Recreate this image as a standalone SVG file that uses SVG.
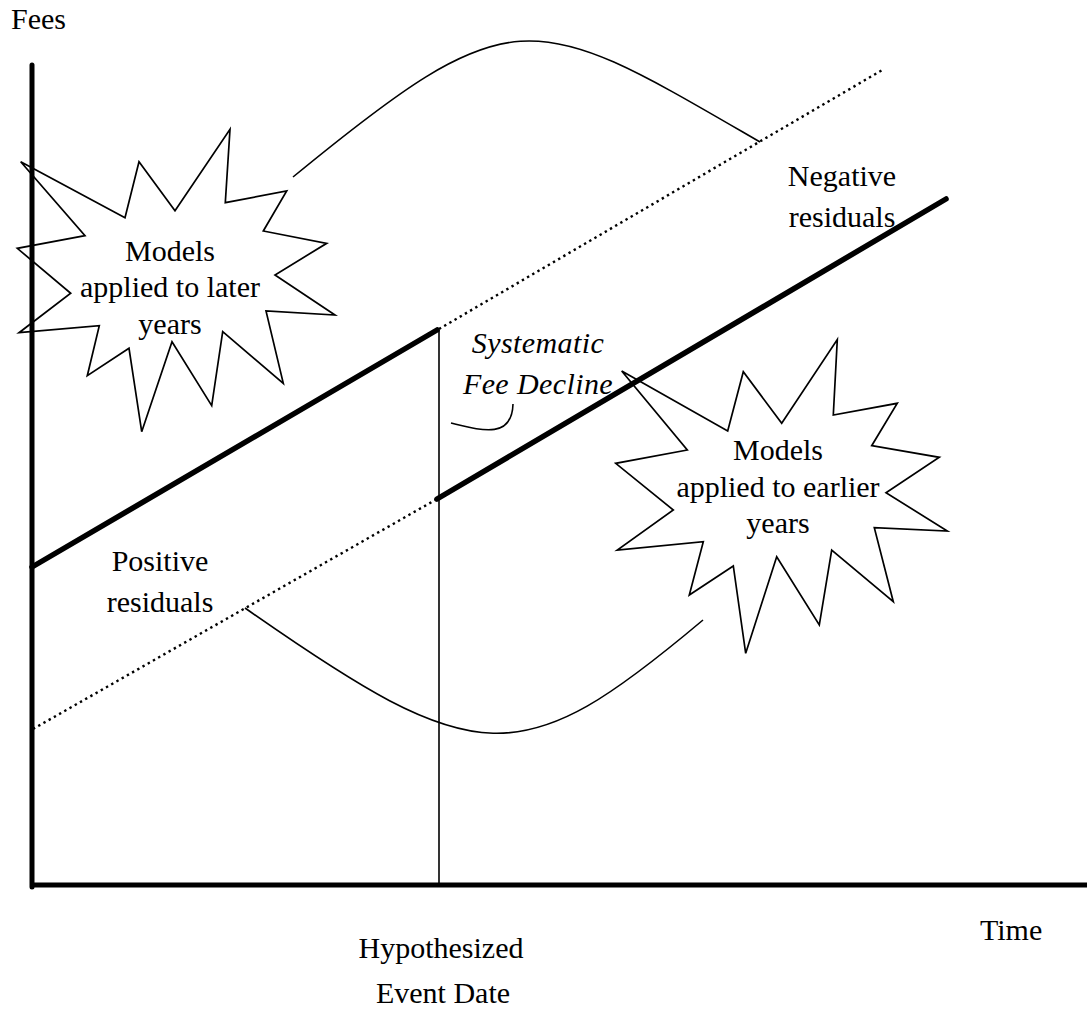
<svg xmlns="http://www.w3.org/2000/svg" width="1088" height="1010" viewBox="0 0 1088 1010">
<style>
text{font-family:"Liberation Serif","Times New Roman",serif;font-size:30px;fill:#000}
.it{font-style:italic;letter-spacing:0.4px}
.thick{stroke:#000;stroke-width:5.5;stroke-linecap:round;fill:none}
.axis{stroke:#000;stroke-width:5;fill:none}
.dot{stroke:#000;stroke-width:2.4;stroke-dasharray:2.4 3.6;fill:none}
.thin{stroke:#000;stroke-width:1.6;fill:none}
.star{stroke:#000;stroke-width:1.7;fill:none;stroke-linejoin:miter}
</style>
<rect width="1088" height="1010" fill="#fff"/>
<g id="axes">
<line class="axis" x1="32" y1="65" x2="32" y2="887" stroke-linecap="round"/>
<line class="axis" x1="30" y1="885" x2="1087" y2="885"/>
<line class="thin" x1="439" y1="330" x2="439" y2="885"/>
</g>
<g id="trend-lines">
<line class="thick" x1="32" y1="567" x2="437" y2="330"/>
<line class="dot" x1="439" y1="329" x2="884" y2="69"/>
<line class="dot" x1="33" y1="729" x2="437" y2="499"/>
<line class="thick" x1="437" y1="499" x2="946" y2="199"/>
</g>
<g id="star-later">
<polygon class="star" points="20.7,161.7 125,217.7 139,161.7 175,210.7 230,129.3 225.3,202.7 286.7,191 263.3,231 326.7,243.3 275,275 335,315 266,311 283.3,383.3 222.7,331.7 211.7,405.7 172,341.7 141.7,431.7 129,348.3 87.3,375.7 99.3,325.7 19,332.7 70.7,293.3 17.3,248.3 85,235.7"/>
<text x="170" y="260.5" text-anchor="middle">Models</text>
<text x="170" y="297" text-anchor="middle">applied to later</text>
<text x="170" y="334" text-anchor="middle">years</text>
</g>
<g id="star-earlier">
<polygon class="star" points="621.7,371 727.7,431 743.3,371.7 781.7,423.3 837.3,339.5 833.3,415 897.3,403.3 871.7,445.7 939.3,457.3 886,492.7 947.3,531 874.3,527.7 893.3,601.7 831.7,550 819.3,625 776.7,556.7 745.7,653.3 733.3,566 689.3,595 703.3,541.7 617.3,550 673.3,510 615.7,463.3 687.3,450"/>
<text x="778" y="460" text-anchor="middle">Models</text>
<text x="778" y="497" text-anchor="middle">applied to earlier</text>
<text x="778" y="533" text-anchor="middle">years</text>
</g>
<g id="connectors">
<path class="thin" d="M293,177 C517,-7 532,10 760,142"/>
<path class="thin" d="M245,608 C479,772 520,774 703,620"/>
<path class="thin" d="M451,423 C480,430 512,440 513,404"/>
</g>
<g id="label-fees"><text x="11" y="29">Fees</text></g>
<g id="label-negative">
<text x="842" y="186" text-anchor="middle">Negative</text>
<text x="842" y="227" text-anchor="middle">residuals</text>
</g>
<g id="label-positive">
<text x="160" y="571" text-anchor="middle">Positive</text>
<text x="160" y="612" text-anchor="middle">residuals</text>
</g>
<g id="label-decline">
<text class="it" x="538" y="353" text-anchor="middle">Systematic</text>
<text class="it" x="538" y="394" text-anchor="middle">Fee Decline</text>
</g>
<g id="label-event">
<text x="441" y="958" text-anchor="middle">Hypothesized</text>
<text x="443" y="1003" text-anchor="middle">Event Date</text>
</g>
<g id="label-time"><text x="980" y="940">Time</text></g>
</svg>
